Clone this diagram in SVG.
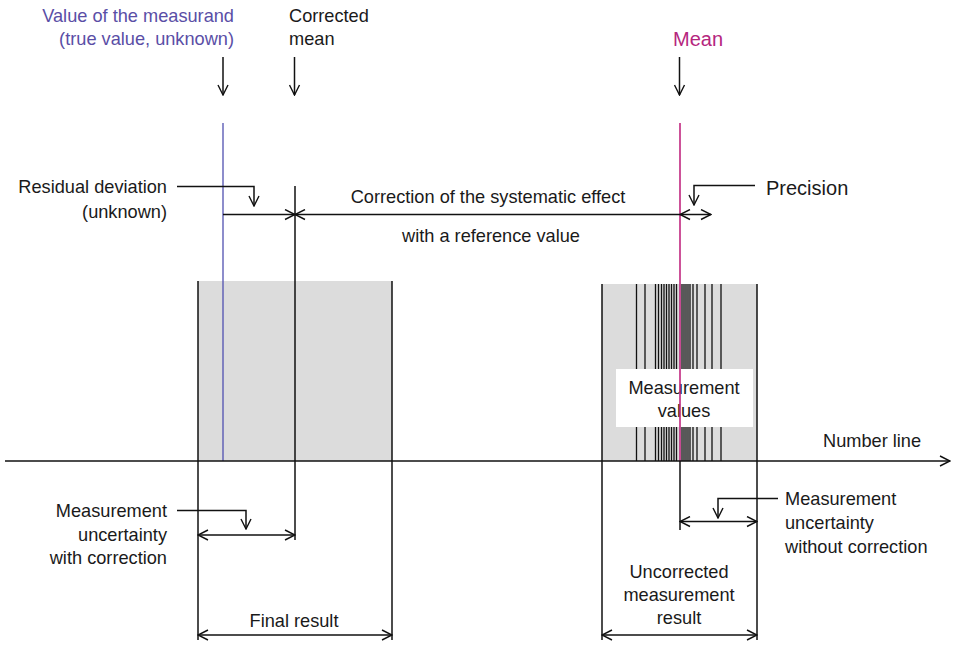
<svg xmlns="http://www.w3.org/2000/svg" width="953" height="645" viewBox="0 0 953 645">
<style>
text{font-family:"Liberation Sans",Arial,sans-serif;font-size:18.2px;fill:#1a1a1a}
.big{font-size:20px}
.blue{fill:#5a4ea6}
.mag{fill:#b5267e}
.ln{stroke:#111;stroke-width:1.5;fill:none}
.thin{stroke:#111;stroke-width:1.3;fill:none}
.box{fill:#dcdcdc}
.e{text-anchor:end}
.m{text-anchor:middle}
</style>
<defs>
<marker id="ah" viewBox="0 0 12 12" refX="11" refY="6" markerWidth="12" markerHeight="12" markerUnits="userSpaceOnUse" orient="auto-start-reverse">
<path d="M1,1 L11,6 L1,11" fill="none" stroke="#111" stroke-width="1.4"/>
</marker>
</defs>
<g id="final-box">
<rect class="box" x="198" y="281" width="194" height="180"/>
<line class="ln" x1="198" y1="281" x2="198" y2="640"/>
<line class="ln" x1="392" y1="281" x2="392" y2="640"/>
</g>
<g id="uncorrected-box">
<rect class="box" x="602" y="284" width="155" height="177"/>
<g class="thin">
<path d="M636.5,284V461M645,284V461M655.5,284V461M658.5,284V461M661.5,284V461M664,284V461M666.5,284V461M669,284V461M671.5,284V461M674,284V461M676.5,284V461M682,284V461M684,284V461M686,284V461M688,284V461M690,284V461M693,284V461M697,284V461M705,284V461M712,284V461M721,284V461"/>
</g>
<line class="ln" x1="602" y1="284" x2="602" y2="640"/>
<line class="ln" x1="757" y1="284" x2="757" y2="640"/>
</g>
<g id="measurement-values">
<rect x="616" y="369" width="137" height="58" fill="#fff"/>
<text class="m" x="684" y="394">Measurement</text>
<text class="m" x="684" y="417">values</text>
</g>
<g id="true-value">
<line x1="223" y1="123" x2="223" y2="461" stroke="#5050b0" stroke-width="1.3"/>
<text class="e blue" x="234" y="22">Value of the measurand</text>
<text class="e blue" x="234" y="45">(true value, unknown)</text>
</g>
<g id="corrected-mean">
<line class="ln" x1="295" y1="186" x2="295" y2="540"/>
<text x="289" y="22">Corrected</text>
<text x="289" y="45">mean</text>
</g>
<g id="mean">
<line x1="680" y1="123" x2="680" y2="461" stroke="#c0267f" stroke-width="1.6"/>
<line class="ln" x1="680" y1="461" x2="680" y2="530"/>
<text class="big mag" x="673" y="46">Mean</text>
</g>
<g id="number-line">
<text x="823" y="447">Number line</text>
</g>
<g id="residual-label">
<text class="e" x="167" y="193">Residual deviation</text>
<text class="e" x="167" y="218">(unknown)</text>
</g>
<g id="correction-label">
<text class="m" x="488" y="203">Correction of the systematic effect</text>
<text class="m" x="491" y="242">with a reference value</text>
</g>
<g id="precision-label">
<text class="big" x="766" y="195">Precision</text>
</g>
<g id="uncert-with-label">
<text class="e" x="167" y="517">Measurement</text>
<text class="e" x="167" y="541">uncertainty</text>
<text class="e" x="167" y="564">with correction</text>
</g>
<g id="uncert-without-label">
<text x="785" y="505">Measurement</text>
<text x="785" y="529">uncertainty</text>
<text x="785" y="553">without correction</text>
</g>
<g id="final-label">
<text class="m" x="294" y="627">Final result</text>
</g>
<g id="uncorrected-label">
<text class="m" x="679" y="578">Uncorrected</text>
<text class="m" x="679" y="601">measurement</text>
<text class="m" x="679" y="624">result</text>
</g>
<g id="connectors" class="ln">
<line x1="5" y1="461" x2="950" y2="461" marker-end="url(#ah)"/>
<line x1="223" y1="57" x2="223" y2="95" marker-end="url(#ah)"/>
<line x1="294.5" y1="57" x2="294.5" y2="95" marker-end="url(#ah)"/>
<line x1="679.5" y1="57" x2="679.5" y2="95" marker-end="url(#ah)"/>
<polyline points="177,186.5 254,186.5 254,206" marker-end="url(#ah)"/>
<line x1="223" y1="214.5" x2="295" y2="214.5" marker-end="url(#ah)"/>
<line x1="680" y1="214.5" x2="295" y2="214.5" marker-end="url(#ah)"/>
<line x1="680" y1="214.5" x2="711" y2="214.5" marker-start="url(#ah)" marker-end="url(#ah)"/>
<polyline points="755,185.5 694,185.5 694,205" marker-end="url(#ah)"/>
<polyline points="177,510.5 246,510.5 246,529" marker-end="url(#ah)"/>
<line x1="198" y1="535" x2="295" y2="535" marker-start="url(#ah)" marker-end="url(#ah)"/>
<polyline points="778,498.5 718,498.5 718,518" marker-end="url(#ah)"/>
<line x1="680" y1="521.5" x2="757" y2="521.5" marker-start="url(#ah)" marker-end="url(#ah)"/>
<line x1="198" y1="635" x2="392" y2="635" marker-start="url(#ah)" marker-end="url(#ah)"/>
<line x1="602" y1="635" x2="757" y2="635" marker-start="url(#ah)" marker-end="url(#ah)"/>
</g>
</svg>
